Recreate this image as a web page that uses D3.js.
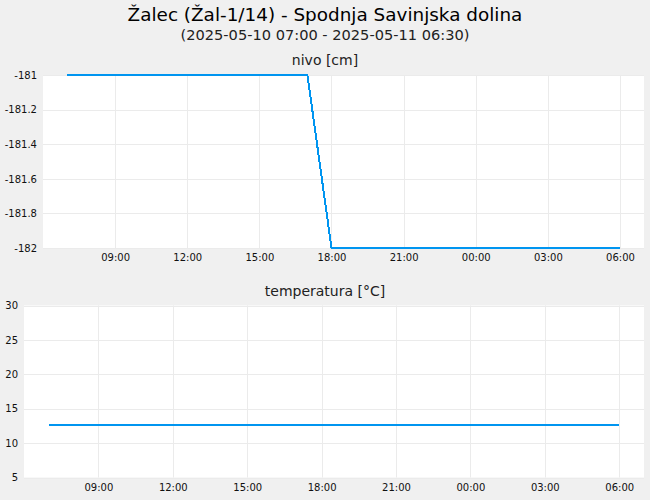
<!DOCTYPE html>
<html>
  <head>
    <meta charset="utf-8" />
    <script src="https://d3js.org/d3.v7.min.js"></script>
    <style>
      body { margin: 0; background: #f0f0f0; }
      svg { display: block; font-family: "DejaVu Sans", sans-serif; }
    </style>
  </head>
  <body>
    <div id="chart"></div>
    <script>
      // hourly readings, 2025-05-10 07:00 .. 2025-05-11 06:00
      const times = [
        "2025-05-10 07:00", "2025-05-10 08:00", "2025-05-10 09:00", "2025-05-10 10:00",
        "2025-05-10 11:00", "2025-05-10 12:00", "2025-05-10 13:00", "2025-05-10 14:00",
        "2025-05-10 15:00", "2025-05-10 16:00", "2025-05-10 17:00", "2025-05-10 18:00",
        "2025-05-10 19:00", "2025-05-10 20:00", "2025-05-10 21:00", "2025-05-10 22:00",
        "2025-05-10 23:00", "2025-05-11 00:00", "2025-05-11 01:00", "2025-05-11 02:00",
        "2025-05-11 03:00", "2025-05-11 04:00", "2025-05-11 05:00", "2025-05-11 06:00",
      ];
      const nivo = [
        -181, -181, -181, -181, -181, -181, -181, -181, -181, -181, -181, -182,
        -182, -182, -182, -182, -182, -182, -182, -182, -182, -182, -182, -182,
      ];
      const temperatura = [
        12.7, 12.7, 12.7, 12.7, 12.7, 12.7, 12.7, 12.7, 12.7, 12.7, 12.7, 12.7,
        12.7, 12.7, 12.7, 12.7, 12.7, 12.7, 12.7, 12.7, 12.7, 12.7, 12.7, 12.7,
      ];
      const nivoTicks = [-181, -181.2, -181.4, -181.6, -181.8, -182];
      const tempTicks = [5, 10, 15, 20, 25, 30];
      const xRange = ["2025-05-10 06:00", "2025-05-11 07:00"];

      const width = 650;
      const height = 500;
      const parse = d3.timeParse("%Y-%m-%d %H:%M");
      const dates = times.map(parse);

      const svg = d3.select("#chart").append("svg").attr("width", width).attr("height", height);
      svg.append("rect").attr("width", width).attr("height", height).attr("fill", "#f0f0f0");

      svg.append("text")
        .attr("x", 325).attr("y", 20.5)
        .attr("text-anchor", "middle")
        .style("font-size", "18.4px")
        .text("Žalec (Žal-1/14) - Spodnja Savinjska dolina");
      svg.append("text")
        .attr("x", 325).attr("y", 40)
        .attr("text-anchor", "middle")
        .style("font-size", "14.6px")
        .style("fill", "#222")
        .text("(2025-05-10 07:00 - 2025-05-11 06:30)");

      function panel(p) {
        const x = d3.scaleTime().domain(xRange.map(parse)).range([p.left, p.right]);
        const y = d3.scaleLinear().domain(p.domain).range([p.bottom, p.top]);
        const g = svg.append("g");

        g.append("text")
          .attr("x", 325).attr("y", p.top - 10)
          .attr("text-anchor", "middle")
          .style("font-size", "14px")
          .style("fill", "#222")
          .text(p.title);

        g.append("rect")
          .attr("x", p.left).attr("y", p.top)
          .attr("width", p.right - p.left).attr("height", p.bottom - p.top)
          .attr("fill", "#fff");

        const xt = x.ticks(d3.timeHour.every(3)).filter((d) => x(d) > p.left + 5 && x(d) < p.right - 5);
        g.selectAll(".vg").data(xt).enter().append("line")
          .attr("x1", (d) => Math.round(x(d)) + 0.5).attr("x2", (d) => Math.round(x(d)) + 0.5)
          .attr("y1", p.top).attr("y2", p.bottom)
          .attr("stroke", "#ebebeb");
        g.selectAll(".hg").data(p.ticks).enter().append("line")
          .attr("x1", p.left).attr("x2", p.right)
          .attr("y1", (d) => Math.round(y(d)) + 0.5).attr("y2", (d) => Math.round(y(d)) + 0.5)
          .attr("stroke", "#ebebeb");

        const xAxis = d3.axisBottom(x).tickValues(xt).tickSize(0).tickPadding(6)
          .tickFormat(d3.timeFormat("%H:%M"));
        g.append("g").attr("transform", `translate(0,${p.bottom})`).call(xAxis)
          .call((a) => a.select(".domain").remove())
          .selectAll("text").style("font-size", "10px").style("fill", "#111")
          .style("font-family", "DejaVu Sans");

        const yAxis = d3.axisLeft(y).tickValues(p.ticks).tickSize(0).tickPadding(p.pad)
          .tickFormat((d) => String(Math.round(d * 10) / 10));
        g.append("g").attr("transform", `translate(${p.left},0)`).call(yAxis)
          .call((a) => a.select(".domain").remove())
          .selectAll("text").style("font-size", "10px").style("fill", "#111")
          .style("font-family", "DejaVu Sans");

        const line = d3.line().x((d, i) => x(dates[i])).y((d) => y(d));
        g.append("path")
          .datum(p.values)
          .attr("d", line)
          .attr("fill", "none")
          .attr("stroke", "#0095f0")
          .attr("stroke-width", 2)
          .attr("shape-rendering", "crispEdges");
      }

      panel({
        title: "nivo [cm]",
        values: nivo,
        domain: [-182, -181],
        ticks: nivoTicks,
        left: 43, right: 644, top: 75, bottom: 248, pad: 6,
      });
      panel({
        title: "temperatura [°C]",
        values: temperatura,
        domain: [5, 30],
        ticks: tempTicks,
        left: 24, right: 644, top: 305.5, bottom: 477.5, pad: 6,
      });
    </script>
  </body>
</html>
